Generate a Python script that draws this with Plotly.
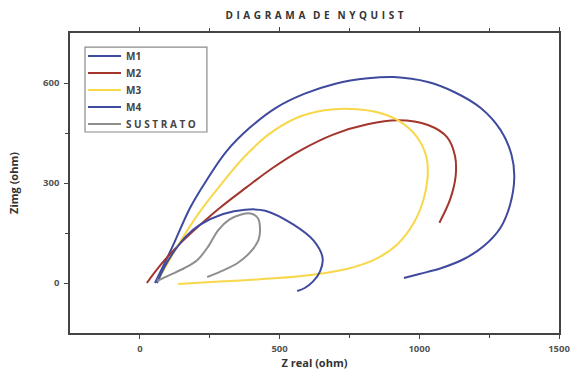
import plotly.graph_objects as go

# Data
m1_x = [54, 115, 180, 240, 310, 395, 490, 590, 700, 816, 909, 1031, 1125, 1220, 1290, 1330, 1340, 1325, 1290, 1230, 1160, 1080, 1000, 945]
m1_y = [0, 106, 226, 310, 395, 467, 527, 568, 598, 614, 618, 603, 573, 525, 460, 385, 317, 235, 165, 110, 72, 45, 27, 15]

m2_x = [25, 75, 140, 210, 290, 380, 475, 575, 694, 815, 923, 1031, 1100, 1128, 1130, 1110, 1072]
m2_y = [0, 55, 115, 170, 228, 286, 345, 398, 446, 476, 488, 474, 437, 380, 320, 250, 181]

m3_x = [65, 110, 160, 220, 290, 370, 460, 560, 660, 760, 860, 930, 990, 1025, 1030, 1015, 980, 920, 840, 740, 620, 480, 300, 137]
m3_y = [9, 75, 145, 220, 295, 375, 445, 495, 518, 522, 510, 485, 440, 380, 320, 250, 180, 115, 70, 42, 25, 14, 5, -3]

m4_x = [61, 90, 126, 165, 216, 298, 377, 449, 550, 622, 654, 645, 620, 590, 563]
m4_y = [0, 51, 99, 140, 175, 207, 220, 217, 175, 127, 75, 35, 5, -15, -24]

sus_x = [61, 110, 160, 205, 245, 280, 320, 360, 400, 422, 430, 425, 400, 350, 290, 241]
sus_y = [6, 25, 45, 68, 110, 158, 190, 205, 208, 195, 165, 130, 97, 60, 35, 18]

names = ["M1", "M2", "M3", "M4", "SUSTRATO"]
legend_labels = ["<b>M1</b>", "<b>M2</b>", "<b>M3</b>", "<b>M4</b>", "<b>S U S T R A T O</b>"]
xs = [m1_x, m2_x, m3_x, m4_x, sus_x]
ys = [m1_y, m2_y, m3_y, m4_y, sus_y]
colors = ["#3f4a9e", "#a3352d", "#f8d74a", "#3f4a9e", "#8e8e8e"]

fig = go.Figure()
for n, x, y, c in zip(names, xs, ys, colors):
    fig.add_trace(go.Scatter(x=x, y=y, name=n, mode="lines", showlegend=False,
                             line=dict(color=c, width=2, shape="spline", smoothing=1.0)))

# Legend drawn as a box with sample lines (paper coordinates)
box_x0, box_x1, box_y0, box_y1 = 0.0307, 0.280, 0.67, 0.953
row_y = [0.923, 0.867, 0.810, 0.753, 0.697]
fig.add_shape(type="rect", xref="paper", yref="paper", x0=box_x0, x1=box_x1, y0=box_y0, y1=box_y1,
              line=dict(color="#8a8a8a", width=1.2), fillcolor="white", layer="above")
for lab, c, ry in zip(legend_labels, colors, row_y):
    fig.add_shape(type="line", xref="paper", yref="paper", x0=0.0368, x1=0.1043, y0=ry, y1=ry,
                  line=dict(color=c, width=2), layer="above")
    fig.add_annotation(xref="paper", yref="paper", x=0.110, y=ry, xanchor="left", yanchor="middle",
                       text=lab, showarrow=False,
                       font=dict(family="Open Sans", size=10, color="#444444"))

axis_common = dict(showgrid=False, zeroline=False, showline=True, linecolor="#444444",
                   linewidth=1.5, ticks="outside", ticklen=4, tickcolor="#444444",
                   automargin=False,
                   tickfont=dict(family="Open Sans", size=9.5, color="#555555", weight="bold"))

sp = " \u200a"
title_txt = "   ".join(sp.join(list(w)) for w in ["DIAGRAMA", "DE", "NYQUIST"])

fig.update_layout(
    width=571, height=379,
    margin=dict(l=70, r=12, t=33, b=46),
    plot_bgcolor="white", paper_bgcolor="white",
    title=dict(text="<b>" + title_txt + "</b>", xref="paper", x=0.5, xanchor="center",
               yref="container", y=0.969, yanchor="top",
               font=dict(family="Open Sans", size=10, color="#333333")),
    xaxis=dict(range=[-250, 1500], tickvals=[0, 500, 1000, 1500], mirror="ticks",
               ticklabelstandoff=2,
               minor=dict(tickvals=[250, 750, 1250], ticks="outside", ticklen=3, tickcolor="#444444"),
               title=dict(text="<b>Z real (ohm)</b>", font=dict(family="Open Sans", size=11, color="#333333"),
                          standoff=0),
               **axis_common),
    yaxis=dict(range=[-150, 750], tickvals=[0, 300, 600], mirror=True,
               ticklabelstandoff=3,
               minor=dict(tickvals=[150, 450], ticks="outside", ticklen=3, tickcolor="#444444"),
               title=dict(text="<b>Zimg (ohm)</b>", font=dict(family="Open Sans", size=11, color="#333333"),
                          standoff=22),
               **axis_common),
    showlegend=False,
)

fig.write_html("out.html", config={"displayModeBar": False},
               post_script="document.body.style.margin='0';document.body.style.overflow='hidden';")
